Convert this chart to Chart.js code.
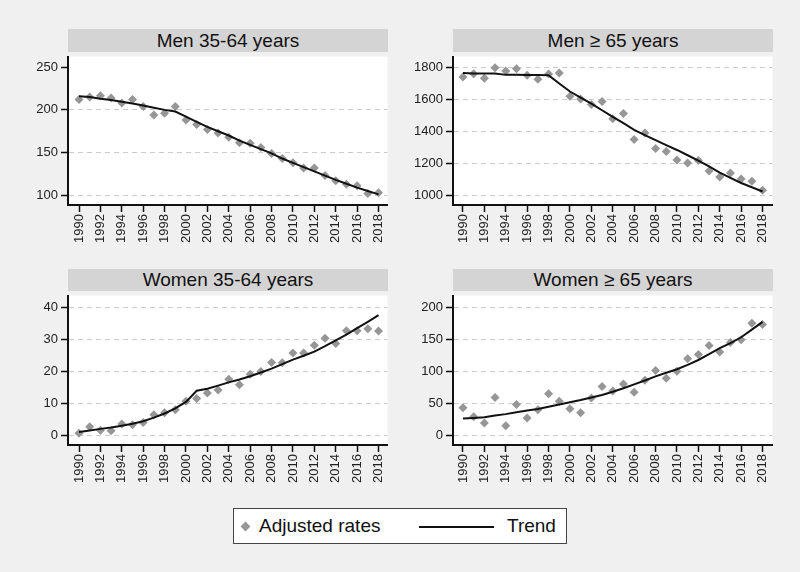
<!DOCTYPE html>
<html>
<head>
<meta charset="utf-8">
<script src="https://cdn.jsdelivr.net/npm/chart.js@4.4.1/dist/chart.umd.min.js"></script>
<style>
  body { margin: 0; background: #f0f0f0; font-family: "Liberation Sans", Arial, sans-serif; }
  #wrap { position: relative; width: 800px; height: 572px; }
  .ttl { position: absolute; background: #d4d4d4; color: #111; font-size: 19px; text-align: center; }
  .box { position: absolute; }
  #legend { position: absolute; left: 233px; top: 508px; width: 332px; height: 34px; border: 1px solid #444; background: #fff; }
  #legend span { position: absolute; font-size: 19px; color: #111; top: 6px; }
</style>
</head>
<body>
<div id="wrap">
  <div class="ttl" style="left:68px;top:29px;width:320px;height:23px;line-height:23px">Men 35-64 years</div>
  <div class="ttl" style="left:453px;top:29px;width:320px;height:23px;line-height:23px">Men ≥ 65 years</div>
  <div class="ttl" style="left:68px;top:269px;width:320px;height:22px;line-height:22px">Women 35-64 years</div>
  <div class="ttl" style="left:453px;top:269px;width:320px;height:22px;line-height:22px">Women ≥ 65 years</div>
  <div class="box" style="left:20px;top:52px;width:372px;height:200px"><canvas id="c1"></canvas></div>
  <div class="box" style="left:405px;top:52px;width:372px;height:200px"><canvas id="c2"></canvas></div>
  <div class="box" style="left:20px;top:291px;width:372px;height:201px"><canvas id="c3"></canvas></div>
  <div class="box" style="left:405px;top:291px;width:372px;height:201px"><canvas id="c4"></canvas></div>
  <div id="legend">
    <div style="position:absolute;left:8px;top:14px;width:7px;height:7px;background:#969696;transform:rotate(45deg)"></div>
    <span style="left:25px">Adjusted rates</span>
    <div style="position:absolute;left:185px;top:17px;width:75px;height:2px;background:#111"></div>
    <span style="left:273px">Trend</span>
  </div>
</div>
<script>
var years = [];
for (var y = 1990; y <= 2018; y++) years.push(y);

// Men 35-64
var men3564Rates = [212, 215, 216.5, 214, 208, 212, 204, 194, 196, 204, 188, 183, 177, 173, 168, 161.5, 161, 156, 149, 143, 138, 132, 132, 123, 117, 113, 111, 102, 103];
var men3564Trend = [216, 215, 213, 211.5, 209.5, 207.5, 205, 202.5, 200, 198, 192, 186, 180, 175, 170, 164, 159, 154, 149, 143, 138, 133, 128, 123, 118, 113.5, 109, 105, 101];
// Men >= 65
var men65Rates = [1739, 1759, 1731, 1796, 1776, 1790, 1749, 1725, 1757, 1763, 1618, 1601, 1567, 1585, 1478, 1510, 1348, 1389, 1292, 1273, 1221, 1202, 1217, 1152, 1115, 1140, 1101, 1087, 1032];
var men65Trend = [1763, 1760, 1760, 1760, 1752, 1752, 1751, 1751, 1750, 1698, 1648, 1610, 1573, 1531, 1490, 1450, 1409, 1376, 1344, 1313, 1283, 1250, 1217, 1180, 1142, 1109, 1077, 1050, 1024];
// Women 35-64
var women3564Rates = [0.6, 2.7, 1.6, 1.4, 3.5, 3.3, 4.0, 6.4, 7.0, 8.0, 10.6, 11.5, 13.2, 14.1, 17.5, 15.8, 19.0, 19.9, 22.7, 22.6, 25.7, 25.7, 28.1, 30.3, 28.6, 32.6, 32.6, 33.2, 32.5];
var women3564Trend = [1.0, 1.5, 2.0, 2.4, 3.0, 3.6, 4.4, 5.5, 6.8, 8.4, 10.4, 13.9, 14.5, 15.5, 16.5, 17.4, 18.4, 19.6, 20.8, 22.2, 23.6, 24.8, 26.1, 27.8, 29.6, 31.4, 33.4, 35.4, 37.5];
// Women >= 65
var women65Rates = [43, 29, 19, 59, 15, 48, 27, 40, 65, 53, 41.5, 35, 58, 76, 69, 80, 67, 86, 101, 89, 100, 119.5, 126, 140, 130, 145, 149, 175, 173];
var women65Trend = [26, 27, 28, 31, 33, 36, 38.5, 41, 44.5, 48, 51.5, 55, 59, 63, 68, 73.5, 79.5, 85.5, 92, 97.5, 103, 110, 117.5, 126.5, 136, 144, 153, 165, 177];

var whiteArea = {
  id: 'whiteArea',
  beforeDraw: function(chart) {
    var a = chart.chartArea, c = chart.ctx;
    c.save();
    c.fillStyle = '#ffffff';
    c.fillRect(a.left, a.top, a.right - a.left, a.bottom - a.top);
    c.restore();
  }
};

function pts(vals) {
  return vals.map(function(v, i) { return {x: years[i], y: v}; });
}

function makeChart(id, rates, trend, xmin, xmax, ymin, ymax, step, hideGrid) {
  new Chart(document.getElementById(id), {
    type: 'line',
    data: {
      datasets: [
        {
          label: 'Trend',
          data: pts(trend),
          borderColor: '#111111',
          borderWidth: 2,
          pointRadius: 0,
          fill: false,
          tension: 0
        },
        {
          label: 'Adjusted rates',
          data: pts(rates),
          showLine: false,
          pointStyle: 'rectRot',
          pointRadius: 4.5,
          pointBackgroundColor: '#969696',
          pointBorderColor: '#969696',
          pointBorderWidth: 0
        }
      ]
    },
    options: {
      responsive: true,
      maintainAspectRatio: false,
      animation: false,
      layout: { padding: { top: 0, left: 0, bottom: 0, right: 4 } },
      plugins: { legend: { display: false }, tooltip: { enabled: false } },
      scales: {
        x: {
          type: 'linear',
          min: xmin,
          max: xmax,
          afterFit: function(s) { s.height = 47; s.paddingLeft = 0; s.paddingRight = 0; },
          ticks: {
            stepSize: 2,
            includeBounds: false,
            autoSkip: false,
            maxRotation: 90,
            minRotation: 90,
            padding: 2,
            color: '#222',
            font: { family: 'Liberation Sans', size: 13 },
            callback: function(v) { return String(v); }
          },
          grid: { drawOnChartArea: false, drawTicks: true, tickLength: 7, tickColor: '#111', tickWidth: 1.5 },
          border: { display: true, color: '#111', width: 2 }
        },
        y: {
          min: ymin,
          max: ymax,
          afterFit: function(s) { s.width = 48; s.paddingTop = 0; s.paddingBottom = 0; },
          ticks: {
            stepSize: step,
            includeBounds: false,
            padding: 3,
            color: '#222',
            font: { family: 'Liberation Sans', size: 13 },
            callback: function(v) { return String(v); }
          },
          grid: {
            color: function(ctx) {
              if (ctx.tick && hideGrid && ctx.tick.value === hideGrid) return 'rgba(0,0,0,0)';
              return '#cccccc';
            },
            lineWidth: 1,
            drawTicks: true,
            tickLength: 7,
            tickColor: '#111',
            tickWidth: 1.5
          },
          border: { display: true, color: '#111', width: 2, dash: [5, 4] }
        }
      }
    },
    plugins: [whiteArea]
  });
}

makeChart('c1', men3564Rates, men3564Trend, 1988.97, 2018.84, 88.6, 262.5, 50, 250);
makeChart('c2', men65Rates, men65Trend, 1989.07, 2018.93, 939.4, 1866.7, 200, null);
makeChart('c3', women3564Rates, women3564Trend, 1988.97, 2018.84, -3.03, 43.6, 10, null);
makeChart('c4', women65Rates, women65Trend, 1989.07, 2018.93, -15.2, 218.2, 50, null);
</script>
</body>
</html>
